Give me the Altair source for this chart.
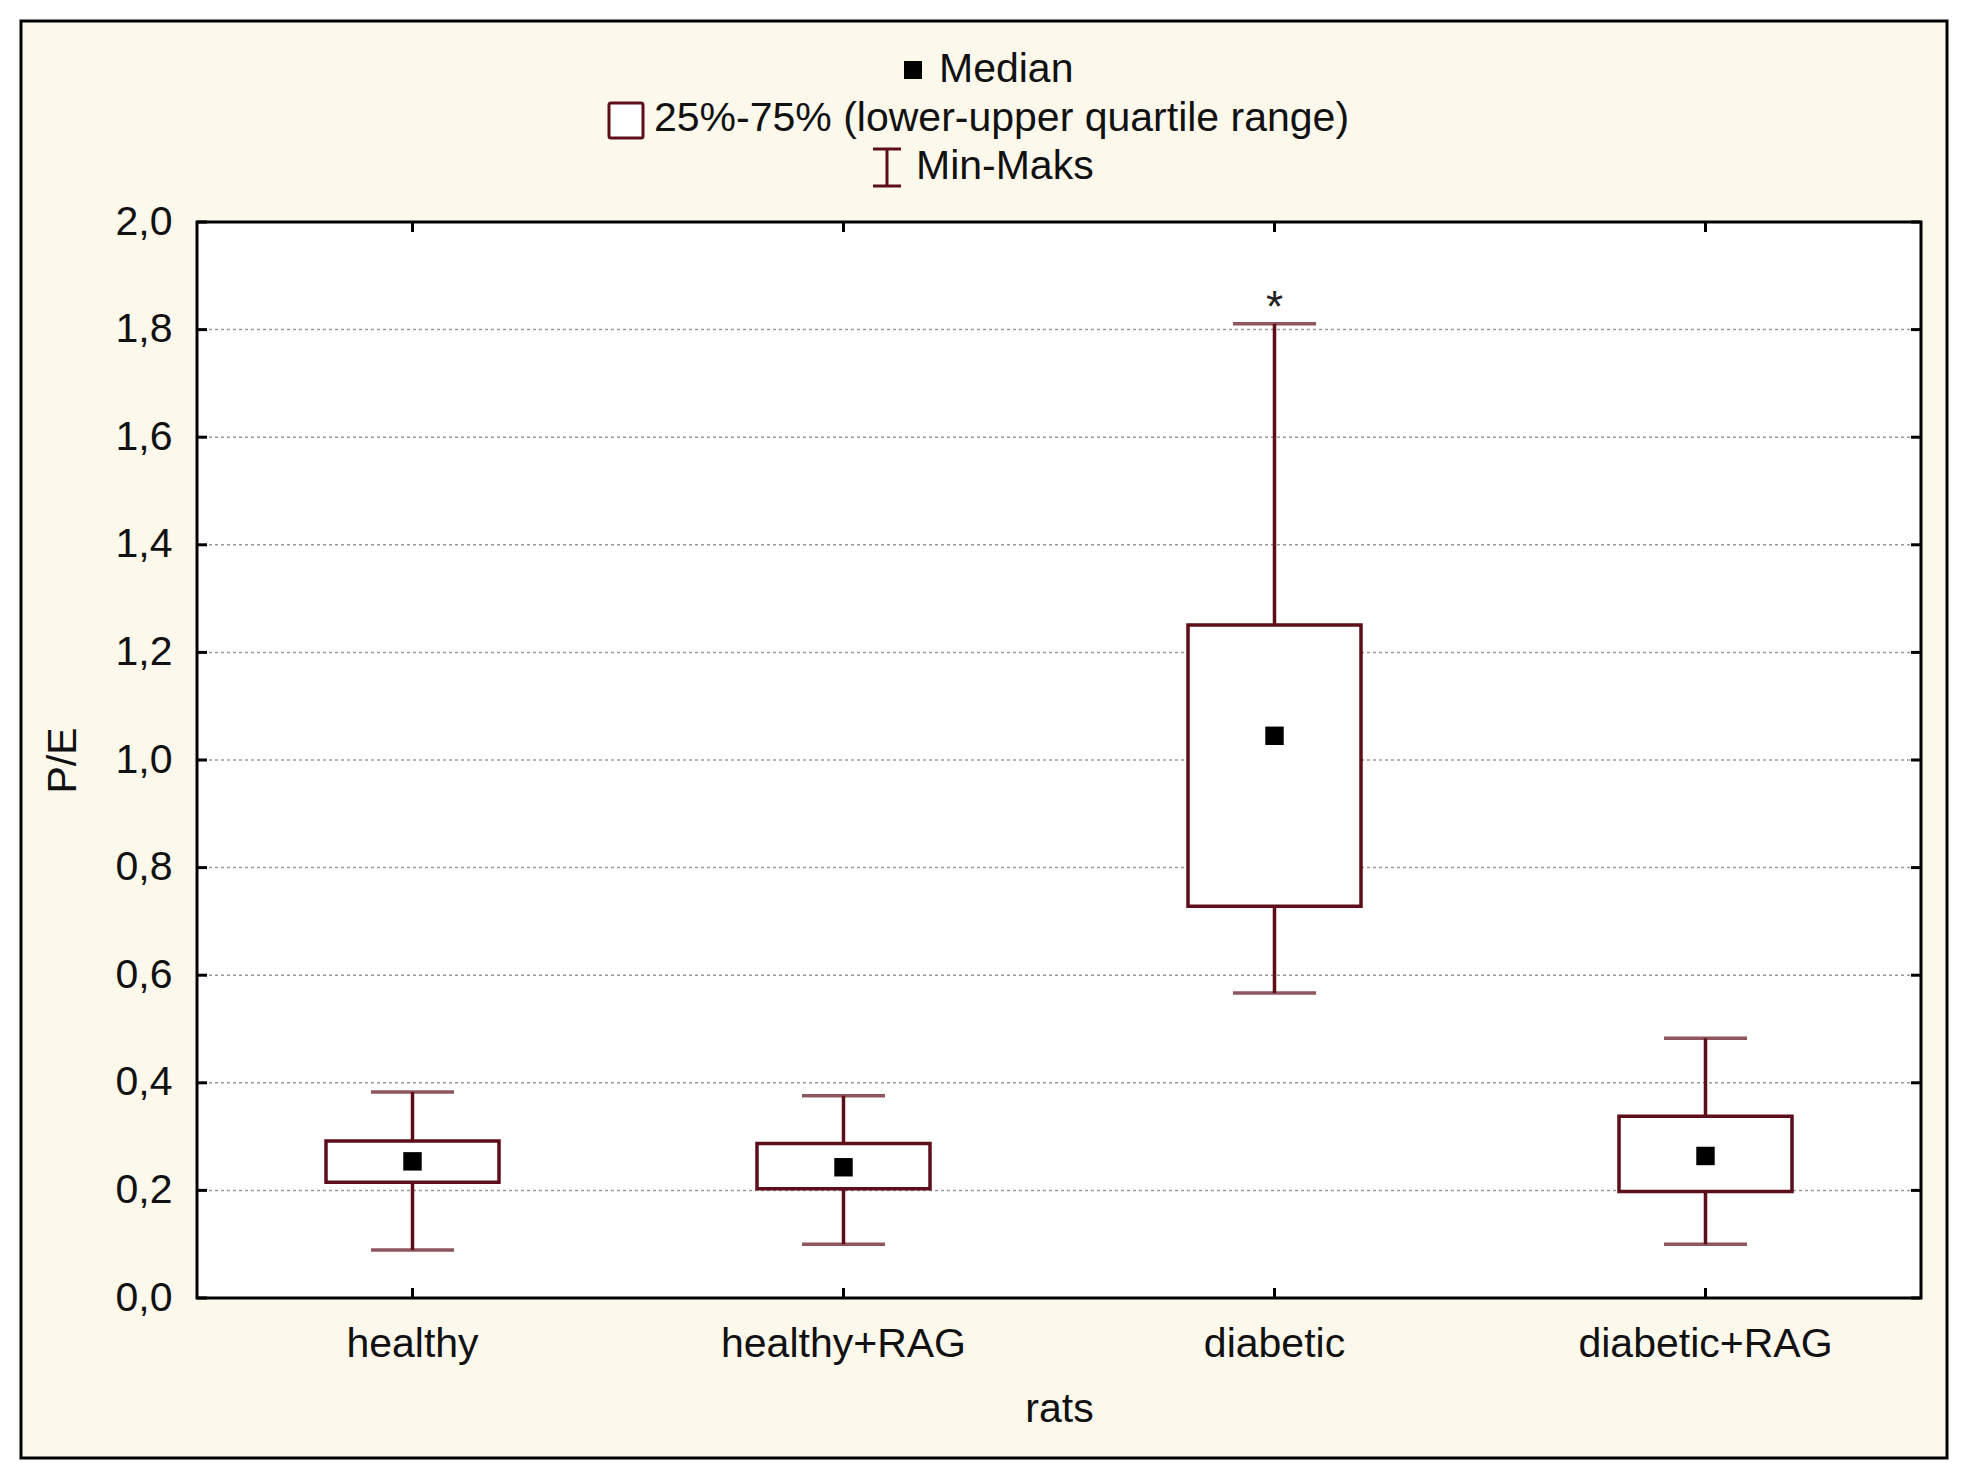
import altair as alt
import pandas as pd

# ---- data ----
groups = ["healthy", "healthy+RAG", "diabetic", "diabetic+RAG"]
mins = [0.089, 0.100, 0.567, 0.100]
q1s = [0.215, 0.203, 0.728, 0.198]
medians = [0.254, 0.243, 1.045, 0.264]
q3s = [0.292, 0.287, 1.251, 0.338]
maxs = [0.383, 0.376, 1.811, 0.483]
stars = ["", "", "*", ""]
grid_vals = [0.2, 0.4, 0.6, 0.8, 1.0, 1.2, 1.4, 1.6, 1.8]
tick_vals = [0.0, 0.2, 0.4, 0.6, 0.8, 1.0, 1.2, 1.4, 1.6, 1.8, 2.0]
legend_labels = ["Median", "25%-75% (lower-upper quartile range)", "Min-Maks"]

W, H = 1724, 1076
MAROON = "#5E0E1A"
CREAM = "#FCF8EC"
FONT = "Liberation Sans"
FS = 41
SW = 3.5

df = pd.DataFrame({"group": groups, "min": mins, "q1": q1s, "median": medians,
                   "q3": q3s, "max": maxs, "star": stars})
grid_df = pd.DataFrame({"v": grid_vals})
tick_df = pd.DataFrame({"v": tick_vals})
grp_df = pd.DataFrame({"group": groups})
one = pd.DataFrame({"a": [0]})

yscale = alt.Scale(domain=[0, 2], nice=False, zero=True)
xscale = alt.Scale(domain=groups, paddingInner=0, paddingOuter=0)

y_axis = alt.Axis(values=tick_vals,
                  labelExpr="replace(format(datum.value, '.1f'), '.', ',')",
                  ticks=False, domain=False, grid=False, labelPadding=25,
                  labelFontSize=FS, labelColor="#111", labelFont=FONT,
                  title="P/E", titleX=-134, titleY=538, titleAngle=270,
                  titleAlign="center", titleBaseline="middle",
                  titleFontWeight="normal", titleFontSize=FS, titleFont=FONT,
                  titleColor="#111", zindex=1)
x_axis = alt.Axis(labelAngle=0, ticks=False, domain=False, grid=False,
                  labelPadding=46, labelBaseline="middle", labelFontSize=FS,
                  labelColor="#111", labelFont=FONT, labelLimit=0,
                  title="rats", titleX=862, titleY=111, titleAlign="center",
                  titleBaseline="middle", titleFontWeight="normal",
                  titleFontSize=FS, titleFont=FONT, titleColor="#111", zindex=1)

X = alt.X("group:N", sort=groups, scale=xscale, axis=x_axis)

def Y(field):
    return alt.Y(field, type="quantitative", scale=yscale, axis=y_axis)

# outer frame (cream background) and plot area
frame = alt.Chart(one).mark_rect(fill=CREAM, stroke="black", strokeWidth=3).encode(
    x=alt.value(-176), x2=alt.value(1750), y=alt.value(-201), y2=alt.value(1236))
plotbg = alt.Chart(one).mark_rect(fill="white", stroke="black", strokeWidth=3).encode(
    x=alt.value(0), x2=alt.value(W), y=alt.value(0), y2=alt.value(H))

grid = alt.Chart(grid_df).mark_rule(color="#9a9a9a", strokeWidth=1.5,
                                    strokeDash=[3, 3]).encode(
    y=Y("v"), x=alt.value(0), x2=alt.value(W))

yt_left = alt.Chart(tick_df).mark_rule(color="black", strokeWidth=3).encode(
    y=Y("v"), x=alt.value(0), x2=alt.value(10))
yt_right = alt.Chart(tick_df).mark_rule(color="black", strokeWidth=3).encode(
    y=Y("v"), x=alt.value(W - 10), x2=alt.value(W))
xt_bottom = alt.Chart(grp_df).mark_rule(color="black", strokeWidth=3).encode(
    x=X, y=alt.value(H - 10), y2=alt.value(H))
xt_top = alt.Chart(grp_df).mark_rule(color="black", strokeWidth=3).encode(
    x=X, y=alt.value(0), y2=alt.value(10))

base = alt.Chart(df)
whisk = base.mark_rule(color=MAROON, strokeWidth=SW).encode(x=X, y=Y("min"), y2="max")
box = base.mark_bar(fill="white", stroke=MAROON, strokeWidth=SW, size=173).encode(
    x=X, y=Y("q1"), y2="q3")
cap_lo = base.mark_tick(color=MAROON, thickness=SW, size=83, orient="horizontal").encode(
    x=X, y=Y("min"))
cap_hi = base.mark_tick(color=MAROON, thickness=SW, size=83, orient="horizontal").encode(
    x=X, y=Y("max"))
med = base.mark_square(color="black", size=340, opacity=1).encode(x=X, y=Y("median"))
star = base.mark_text(fontSize=44, font=FONT, color="#222", baseline="alphabetic",
                      dy=-2).encode(x=X, y=Y("max"), text="star:N")

# legend drawn at the top
leg_med_sym = alt.Chart(one).mark_square(color="black", size=324, opacity=1).encode(
    x=alt.value(716), y=alt.value(-152))
leg_box_sym = alt.Chart(one).mark_rect(fill="white", stroke=MAROON, strokeWidth=3,
                                       cornerRadius=2).encode(
    x=alt.value(412), x2=alt.value(446), y=alt.value(-119), y2=alt.value(-84))
leg_w_v = alt.Chart(one).mark_rule(color=MAROON, strokeWidth=3).encode(
    x=alt.value(690), y=alt.value(-73), y2=alt.value(-36))
leg_w_t = alt.Chart(one).mark_rule(color=MAROON, strokeWidth=3).encode(
    x=alt.value(676), x2=alt.value(704), y=alt.value(-73))
leg_w_b = alt.Chart(one).mark_rule(color=MAROON, strokeWidth=3).encode(
    x=alt.value(676), x2=alt.value(704), y=alt.value(-36))

def leg_text(label, x, y):
    return alt.Chart(pd.DataFrame({"t": [label]})).mark_text(
        fontSize=FS, font=FONT, color="#111", align="left", baseline="middle").encode(
        x=alt.value(x), y=alt.value(y), text="t:N")

leg1 = leg_text(legend_labels[0], 742, -152)
leg2 = leg_text(legend_labels[1], 457, -103)
leg3 = leg_text(legend_labels[2], 719, -55)

chart = alt.layer(
    frame, plotbg, grid, whisk, box, cap_lo, cap_hi, med, star,
    yt_left, yt_right, xt_bottom, xt_top,
    leg_med_sym, leg_box_sym, leg_w_v, leg_w_t, leg_w_b, leg1, leg2, leg3
).properties(
    width=W, height=H,
    autosize=alt.AutoSizeParams(type="none"),
    padding={"left": 189, "top": 214, "right": 36, "bottom": 168},
    background="white",
).configure_view(strokeWidth=0).configure(font=FONT)

chart.save("out.html", embed_options={"renderer": "svg", "actions": False})
